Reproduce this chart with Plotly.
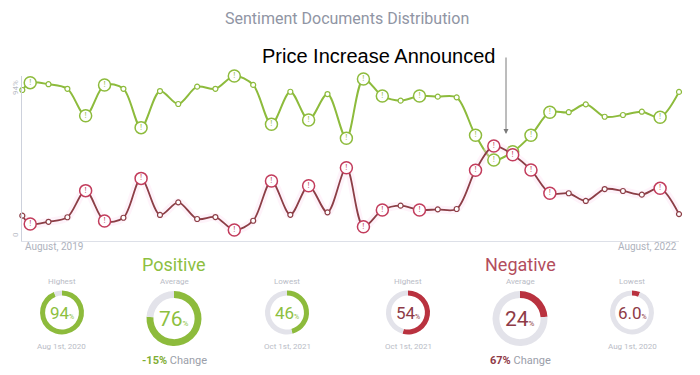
import plotly.graph_objects as go

# ---------------- data ----------------
months = ["2019-08-19", "2019-09-01", "2019-10-01", "2019-11-01", "2019-12-01",
          "2020-01-01", "2020-02-01", "2020-03-01", "2020-04-01", "2020-05-01",
          "2020-06-01", "2020-07-01", "2020-08-01", "2020-09-01", "2020-10-01",
          "2020-11-01", "2020-12-01", "2021-01-01", "2021-02-01", "2021-03-01",
          "2021-04-01", "2021-05-01", "2021-06-01", "2021-07-01", "2021-08-01",
          "2021-09-01", "2021-10-01", "2021-11-01", "2021-12-01", "2022-01-01",
          "2022-02-01", "2022-03-01", "2022-04-01", "2022-05-01", "2022-06-01",
          "2022-07-01", "2022-08-01"]
positive = [86.0, 90.2, 89.3, 86.7, 71.3, 88.9, 86.7, 64.5, 85.4, 78.0,
            87.9, 86.7, 94.0, 88.9, 66.4, 85.0, 68.9, 83.7, 58.4, 92.3,
            82.6, 79.9, 82.6, 82.2, 81.8, 60.1, 46.0, 50.7, 60.1, 73.3,
            73.3, 77.8, 70.7, 71.7, 73.6, 70.4, 84.9]
negative = [14.2, 9.4, 10.7, 13.3, 28.5, 11.1, 13.0, 35.5, 14.6, 21.8,
            12.3, 13.4, 6.0, 11.3, 34.0, 14.7, 31.3, 16.1, 41.6, 7.9,
            17.4, 19.9, 17.4, 17.8, 18.0, 40.1, 54.0, 49.0, 40.3, 27.0,
            27.0, 22.6, 29.4, 28.3, 26.2, 29.8, 15.1]
flagged = [1, 4, 5, 7, 12, 14, 16, 18, 19, 20, 22, 25, 26, 27, 28, 29, 35]

summary_labels = ["Highest", "Average", "Lowest"]
pos_summary = [94, 76, 46]
pos_summary_text = ["94", "76", "46"]
pos_dates = ["Aug 1st, 2020", "", "Oct 1st, 2021"]
pos_change = "-15%"
neg_summary = [54, 24, 6.0]
neg_summary_text = ["54", "24", "6.0"]
neg_dates = ["Oct 1st, 2021", "", "Aug 1st, 2020"]
neg_change = "67%"

# ---------------- style ----------------
W, H = 700, 375
GREEN = "#8dbb3c"
GREEN_TXT = "#8dbf3f"
RED_LINE = "#8c3e46"
RED_MK = "#c23c5c"
RED_DONUT = "#b9323f"
TRACK = "#e3e3ea"
LIGHT = "#b9bcc6"
FONT = "Roboto"


def px(x):
    return x / W


def py(y):
    return 1 - y / H


fig = go.Figure()

flag_x = [months[i] for i in flagged]


def add_series(vals, line_color, mk_color, width, glow=None):
    if glow:
        fig.add_trace(go.Scatter(x=months, y=vals, mode="lines",
                                 line=dict(color=glow, width=8, shape="spline", smoothing=0.9),
                                 hoverinfo="skip", cliponaxis=False))
    fig.add_trace(go.Scatter(x=months, y=vals, mode="lines+markers",
                             line=dict(color=line_color, width=width, shape="spline", smoothing=0.9),
                             marker=dict(size=5, color="white", line=dict(color=line_color, width=1.2)),
                             cliponaxis=False))
    fig.add_trace(go.Scatter(x=flag_x, y=[vals[i] for i in flagged], mode="markers+text",
                             text=["!"] * len(flagged), textposition="middle center",
                             textfont=dict(size=8, color=mk_color, family="Arial Black"),
                             marker=dict(size=12, color="white", line=dict(color=mk_color, width=1.5)),
                             cliponaxis=False))


add_series(positive, GREEN, GREEN, 2)
add_series(negative, RED_LINE, RED_MK, 1.8, glow="rgba(252,220,242,0.35)")

fig.update_xaxes(domain=[px(22.3), px(679)], range=[months[0], months[-1]],
                 showgrid=False, zeroline=False, showticklabels=False,
                 showline=True, linecolor="#dde0e8", linewidth=1)
fig.update_yaxes(domain=[py(240.5), py(76)], range=[0, 94],
                 showgrid=False, zeroline=False, showticklabels=False,
                 showline=True, linecolor="#cdd1dc", linewidth=1)

ann = []


def text(x, y, s, size, color, xanchor="center", family=FONT, textangle=0):
    ann.append(dict(x=px(x), y=py(y), xref="paper", yref="paper", text=s, showarrow=False,
                    xanchor=xanchor, yanchor="middle", textangle=textangle,
                    font=dict(size=size, color=color, family=family)))


text(347, 18, "Sentiment Documents Distribution", 16, "#9095a4")
text(379, 56, "Price Increase Announced", 20, "#000000", family="Liberation Sans, Arial")
text(15, 88, "94%", 8, LIGHT, textangle=-90)
text(15, 235, "0", 8, LIGHT, textangle=-90)
text(23, 247, "August, 2019", 10, "#aeb2bd", xanchor="left")
text(679, 247, "August, 2022", 10, "#aeb2bd", xanchor="right")

# arrow
ann.append(dict(x=px(506), y=py(134), xref="paper", yref="paper", text="", showarrow=True,
                ax=0, ay=-78, arrowhead=2, arrowsize=1, arrowwidth=1, arrowcolor="#7a7a7a"))

# donuts
centers_pos = [(62, 312.5, 22), (174, 318.5, 27.5), (287, 312.5, 22)]
centers_neg = [(408, 312.5, 22), (520, 318.5, 27.5), (632, 312.5, 22)]


def donut_group(centers, vals, vtexts, dates, color, numcolor, titlecolor, title, change, changecolor):
    cx_mid = centers[1][0]
    text(cx_mid, 264, title, 18, titlecolor)
    for k, (cx, cy, r) in enumerate(centers):
        hole = 0.75 if k == 1 else 0.77
        fig.add_trace(go.Pie(values=[vals[k], 100 - vals[k]], sort=False, direction="clockwise",
                             rotation=0, hole=hole, textinfo="none", hoverinfo="skip",
                             marker=dict(colors=[color, TRACK], line=dict(width=0)),
                             domain=dict(x=[px(cx - r), px(cx + r)], y=[py(cy + r), py(cy - r)]),
                             showlegend=False))
        big = 21 if k == 1 else 17
        text(cx, cy, f"{vtexts[k]}<span style='font-size:{7 if k != 1 else 8}px'>%</span>", big, numcolor)
        text(cx, 281, summary_labels[k], 8, LIGHT)
        if dates[k]:
            text(cx, 346, dates[k], 8, LIGHT)
    text(cx_mid, 360, f"<b><span style='color:{changecolor}'>{change}</span></b> Change", 11, "#9a9ea9")


donut_group(centers_pos, pos_summary, pos_summary_text, pos_dates, GREEN, GREEN_TXT, GREEN_TXT,
            "Positive", pos_change, "#7fae35")
donut_group(centers_neg, neg_summary, neg_summary_text, neg_dates, RED_DONUT, "#8e3b47", "#b34d5d",
            "Negative", neg_change, "#8f3a47")

fig.update_layout(width=W, height=H, margin=dict(l=0, r=0, t=0, b=0),
                  paper_bgcolor="white", plot_bgcolor="white", showlegend=False,
                  annotations=ann, font=dict(family=FONT), hovermode=False)

fig.write_html("out.html", config={"displayModeBar": False, "staticPlot": True},
               post_script="document.body.style.margin='0';")
